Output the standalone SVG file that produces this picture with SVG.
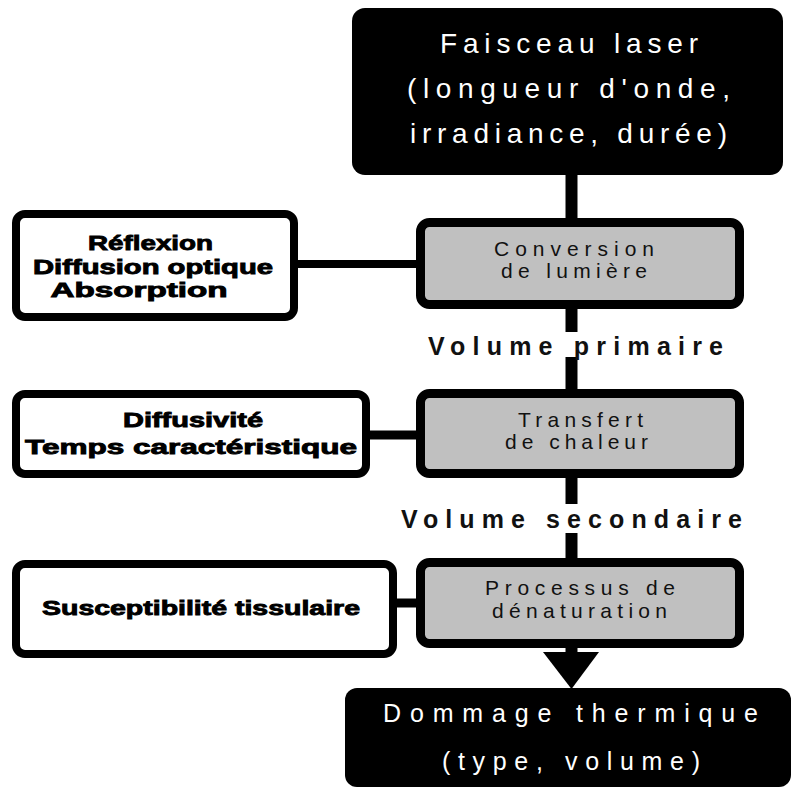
<svg xmlns="http://www.w3.org/2000/svg" width="795" height="789" viewBox="0 0 795 789">
<style>
.dark{fill:#000;}
.gray{fill:#c0c0c0;stroke:#000;stroke-width:9;}
.white{fill:#fff;stroke:#000;stroke-width:8;}
.wt{font-family:"Liberation Sans",Arial,sans-serif;fill:#fff;text-anchor:middle;}
.gt{font-family:"Liberation Sans",Arial,sans-serif;fill:#111;font-size:21px;text-anchor:middle;}
.bt{font-family:"Liberation Sans",Arial,sans-serif;fill:#000;stroke:#000;stroke-width:0.9;font-weight:bold;font-size:21px;text-anchor:middle;}
.vt{font-family:"Liberation Sans",Arial,sans-serif;fill:#111;font-weight:bold;font-size:25px;text-anchor:middle;}
.ln{stroke:#000;fill:none;}
</style>
<rect width="795" height="789" fill="#fff"/>
<g id="connectors">
<line class="ln" x1="571.5" y1="170" x2="571.5" y2="224" stroke-width="12"/>
<line class="ln" x1="571.5" y1="305" x2="571.5" y2="332" stroke-width="12"/>
<line class="ln" x1="571.5" y1="357" x2="571.5" y2="394" stroke-width="12"/>
<line class="ln" x1="571.5" y1="474" x2="571.5" y2="504" stroke-width="12"/>
<line class="ln" x1="571.5" y1="533" x2="571.5" y2="563" stroke-width="12"/>
<line class="ln" x1="571.5" y1="644" x2="571.5" y2="654" stroke-width="12"/>
<line class="ln" x1="294" y1="264" x2="420" y2="264" stroke-width="8"/>
<line class="ln" x1="366" y1="435" x2="420" y2="435" stroke-width="9"/>
<line class="ln" x1="393" y1="603" x2="420" y2="603" stroke-width="9"/>
<polygon points="543,652 599,652 571.5,689" fill="#000"/>
</g>
<g id="laser">
<rect class="dark" x="352" y="8" width="431" height="167" rx="13"/>
<text class="wt" x="569" y="53" font-size="28" textLength="258" lengthAdjust="spacing">Faisceau laser</text>
<text class="wt" x="568.5" y="98" font-size="28" textLength="323" lengthAdjust="spacing">(longueur d'onde,</text>
<text class="wt" x="568.5" y="143" font-size="28" textLength="317" lengthAdjust="spacing">irradiance, durée)</text>
</g>
<g id="optique">
<rect class="white" x="16" y="214" width="278" height="103" rx="9"/>
<text class="bt" x="150.5" y="250" textLength="125" lengthAdjust="spacingAndGlyphs">Réflexion</text>
<text class="bt" x="153" y="274" textLength="240" lengthAdjust="spacingAndGlyphs">Diffusion optique</text>
<text class="bt" x="139" y="297" textLength="177" lengthAdjust="spacingAndGlyphs">Absorption</text>
</g>
<g id="conversion">
<rect class="gray" x="420.5" y="222.5" width="319" height="82" rx="9"/>
<text class="gt" x="574" y="256" textLength="160" lengthAdjust="spacing">Conversion</text>
<text class="gt" x="574" y="278" textLength="146" lengthAdjust="spacing">de lumière</text>
</g>
<g id="volume-primaire">
<text class="vt" x="575.5" y="355" textLength="295" lengthAdjust="spacing">Volume primaire</text>
</g>
<g id="thermique">
<rect class="white" x="16" y="394" width="350" height="80" rx="9"/>
<text class="bt" x="193" y="427" textLength="140" lengthAdjust="spacingAndGlyphs">Diffusivité</text>
<text class="bt" x="191" y="454" textLength="332" lengthAdjust="spacingAndGlyphs">Temps caractéristique</text>
</g>
<g id="transfert">
<rect class="gray" x="420.5" y="393.5" width="319" height="80" rx="9"/>
<text class="gt" x="580.5" y="427" textLength="125" lengthAdjust="spacing">Transfert</text>
<text class="gt" x="576.5" y="449" textLength="143" lengthAdjust="spacing">de chaleur</text>
</g>
<g id="volume-secondaire">
<text class="vt" x="571.5" y="528" textLength="341" lengthAdjust="spacing">Volume secondaire</text>
</g>
<g id="susceptibilite">
<rect class="white" x="16" y="564" width="377" height="90" rx="9"/>
<text class="bt" x="201" y="615" font-size="24" textLength="318" lengthAdjust="spacingAndGlyphs">Susceptibilité tissulaire</text>
</g>
<g id="denaturation">
<rect class="gray" x="420.5" y="562.5" width="319" height="81" rx="9"/>
<text class="gt" x="580" y="595" textLength="190" lengthAdjust="spacing">Processus de</text>
<text class="gt" x="579.5" y="618" textLength="175" lengthAdjust="spacing">dénaturation</text>
</g>
<g id="dommage">
<rect class="dark" x="345" y="688" width="446" height="99" rx="12"/>
<text class="wt" x="570.5" y="722" font-size="25" textLength="375" lengthAdjust="spacing">Dommage thermique</text>
<text class="wt" x="571" y="770" font-size="25" textLength="258" lengthAdjust="spacing">(type, volume)</text>
</g>
</svg>
